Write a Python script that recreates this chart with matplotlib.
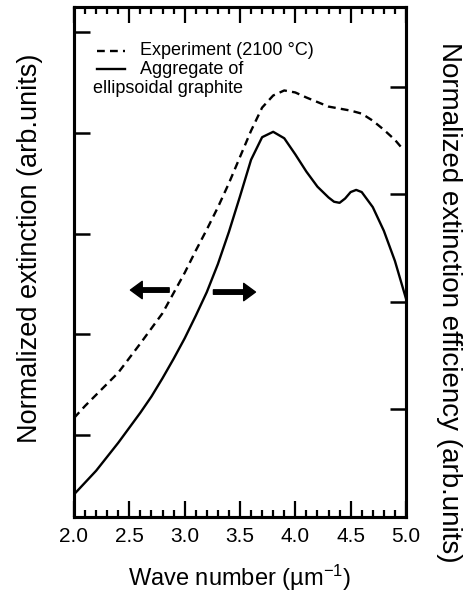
import matplotlib
matplotlib.use("Agg")
import matplotlib.pyplot as plt
from matplotlib.ticker import MultipleLocator

plt.rcParams['font.family'] = ['Liberation Sans', 'DejaVu Sans']
plt.rcParams['mathtext.default'] = 'regular'

# experiment (left axis, normalized extinction)
exp_x = [2.00, 2.10, 2.20, 2.40, 2.60, 2.80, 3.00, 3.10, 3.20, 3.30, 3.40, 3.50,
         3.60, 3.70, 3.80, 3.90, 4.00, 4.10, 4.30, 4.50, 4.60, 4.70, 4.80, 4.90, 4.97]
exp_y = [1.17, 1.29, 1.40, 1.62, 1.91, 2.21, 2.61, 2.83, 3.04, 3.26, 3.50, 3.76,
         4.02, 4.25, 4.37, 4.42, 4.40, 4.35, 4.26, 4.22, 4.19, 4.12, 4.03, 3.93, 3.84]

# aggregate model (right axis, normalized extinction efficiency)
agg_x = [2.00, 2.10, 2.20, 2.30, 2.40, 2.50, 2.60, 2.70, 2.80, 2.90, 3.00, 3.10,
         3.20, 3.30, 3.40, 3.50, 3.60, 3.70, 3.80, 3.90, 4.00, 4.10, 4.20, 4.30,
         4.35, 4.40, 4.45, 4.50, 4.55, 4.60, 4.70, 4.80, 4.90, 5.00]
agg_y = [0.21, 0.32, 0.43, 0.56, 0.69, 0.83, 0.97, 1.12, 1.29, 1.47, 1.66, 1.87,
         2.09, 2.35, 2.65, 2.98, 3.32, 3.53, 3.58, 3.52, 3.37, 3.21, 3.07, 2.97,
         2.93, 2.92, 2.96, 3.02, 3.04, 3.02, 2.88, 2.66, 2.38, 2.03]

xticks = [2.0, 2.5, 3.0, 3.5, 4.0, 4.5, 5.0]
xticklabels = ['2.0', '2.5', '3.0', '3.5', '4.0', '4.5', '5.0']

fig = plt.figure(figsize=(4.74, 6.03), dpi=100)
ax = fig.add_axes([0.1561, 0.1426, 0.7004, 0.8458])
ax2 = ax.twinx()

ax.plot(exp_x, exp_y, color='black', lw=1.7, dashes=(3.3, 2.2))
ax2.plot(agg_x, agg_y, color='black', lw=1.7)

ax.set_xlim(2.0, 5.0)
ax.set_ylim(0.188, 5.248)
ax2.set_ylim(0, 4.74)

ax.set_xticks(xticks)
ax.set_xticklabels(xticklabels, fontsize=15)
ax.xaxis.set_minor_locator(MultipleLocator(0.1))
ax.set_yticks([1, 2, 3, 4, 5])
ax.set_yticklabels([])
ax2.set_yticks([1, 2, 3, 4])
ax2.set_yticklabels([])

ax.tick_params(axis='x', which='both', direction='in', top=True, bottom=True, pad=7)
ax.tick_params(axis='x', which='major', length=11.5, width=1.6)
ax.tick_params(axis='x', which='minor', length=5, width=1.6)
ax.tick_params(axis='y', which='major', direction='in', left=True, right=False,
               length=11.5, width=1.8)
ax2.tick_params(axis='y', which='major', direction='in', right=True,
                length=11.5, width=1.8)

for a in (ax, ax2):
    for s in a.spines.values():
        s.set_linewidth(2.2)

ax.set_xlabel('Wave number (µm$^{-1}$)', fontsize=17, labelpad=12)
ax.set_ylabel('Normalized extinction (arb.units)', fontsize=19.5,
              va='center')
ax.yaxis.set_label_coords(-0.133, 0.527)
ax2.set_ylabel('Normalized extinction efficiency (arb.units)', fontsize=20,
               rotation=-90, va='center')
ax2.yaxis.set_label_coords(1.13, 0.42)

# legend drawn by hand so the second label wraps under the handle
ax.plot([0.069, 0.154], [0.914, 0.914], transform=ax.transAxes, color='black',
        lw=1.7, dashes=(3.3, 2.2))
ax.plot([0.069, 0.154], [0.878, 0.878], transform=ax.transAxes, color='black', lw=1.7)
ax.text(0.199, 0.914, 'Experiment (2100 °C)', transform=ax.transAxes,
        fontsize=13, va='center', ha='left')
ax.text(0.199, 0.878, 'Aggregate of', transform=ax.transAxes,
        fontsize=13, va='center', ha='left')
ax.text(0.057, 0.841, 'ellipsoidal graphite', transform=ax.transAxes,
        fontsize=13, va='center', ha='left')

# direction arrows
arrow_style = "simple,head_length=0.85,head_width=1.25,tail_width=0.32"
ax.annotate('', xy=(2.51, 2.44), xytext=(2.86, 2.44),
            arrowprops=dict(arrowstyle=arrow_style, color='black', mutation_scale=10,
                            shrinkA=0, shrinkB=0))
ax.annotate('', xy=(3.64, 2.42), xytext=(3.26, 2.42),
            arrowprops=dict(arrowstyle=arrow_style, color='black', mutation_scale=10,
                            shrinkA=0, shrinkB=0))

fig.savefig('out.png', dpi=100)
